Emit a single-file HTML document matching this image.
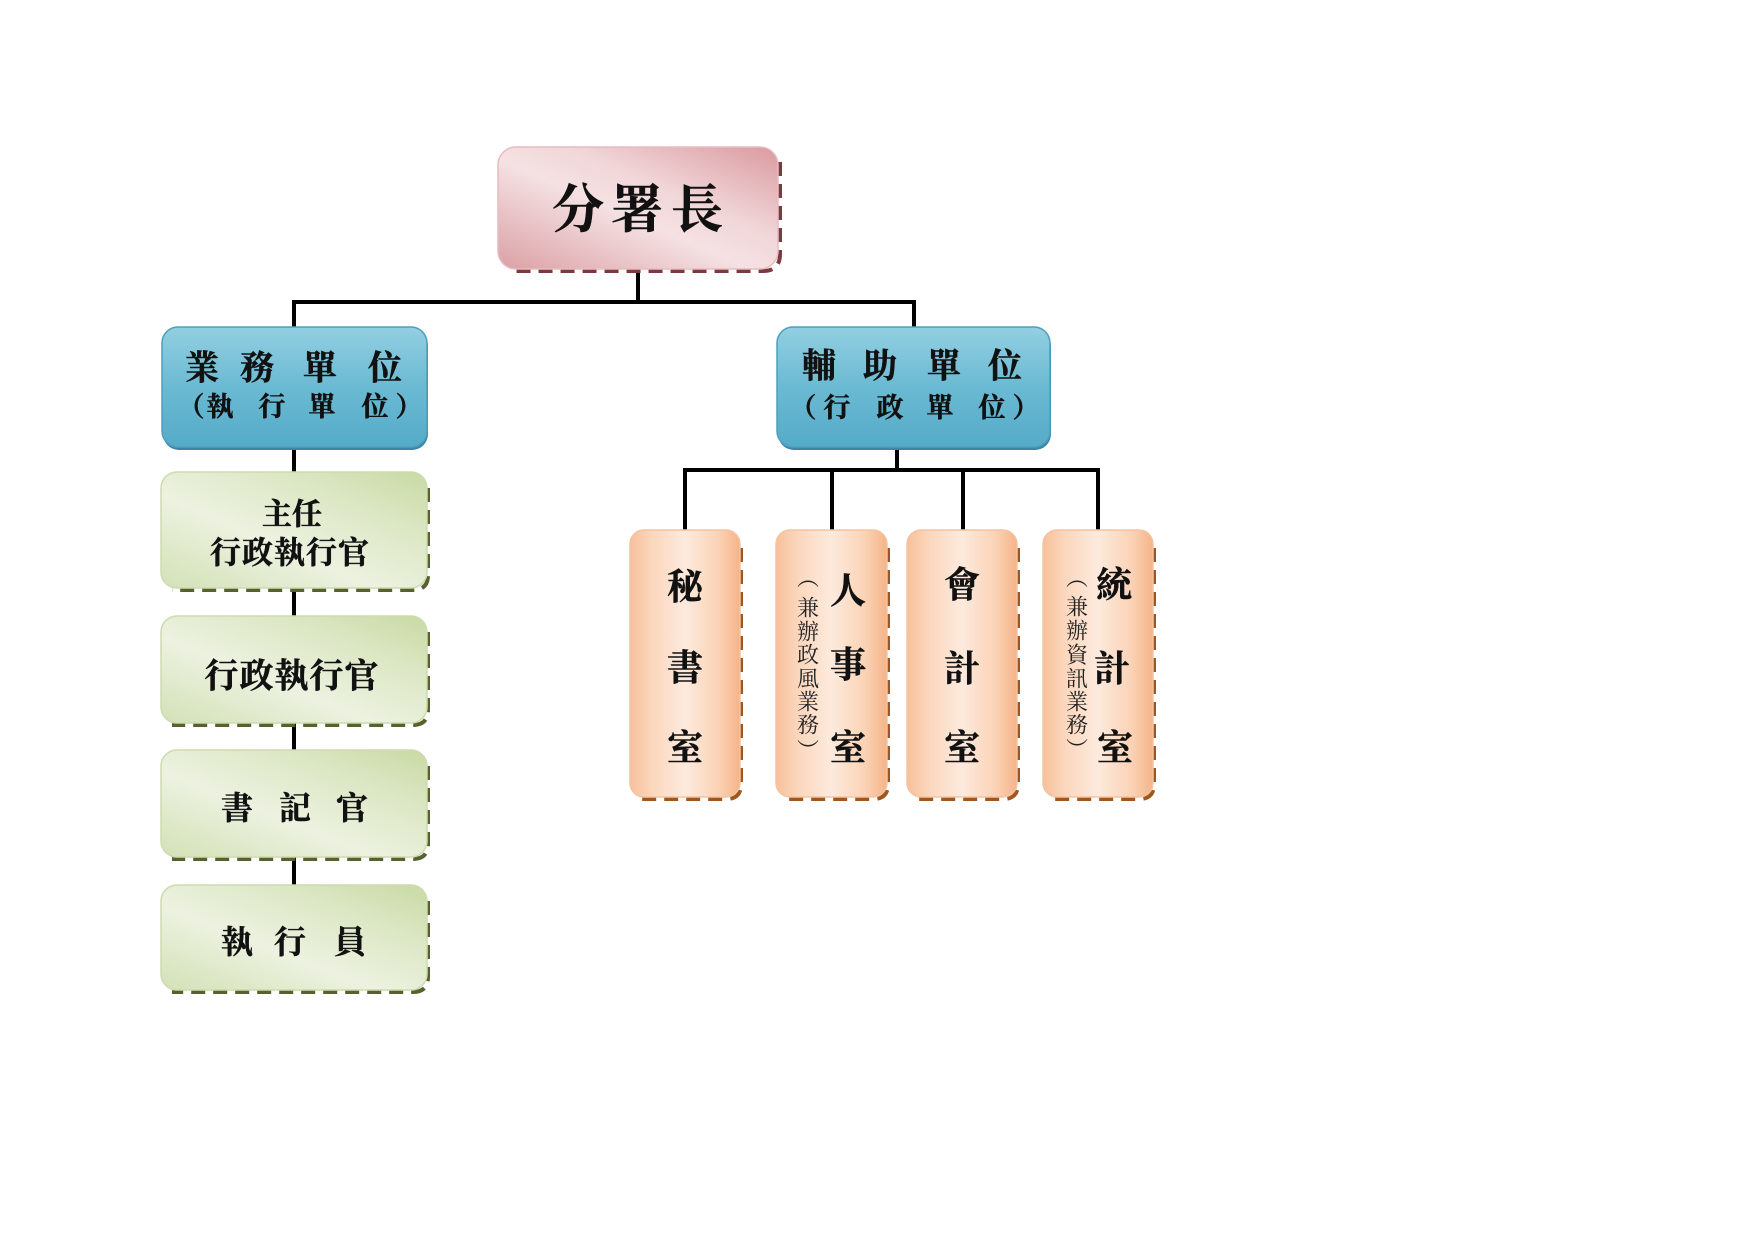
<!DOCTYPE html>
<html><head><meta charset="utf-8"><style>
html,body{margin:0;padding:0;background:#fff;}
svg{display:block;}
text{font-family:"Liberation Serif","Noto Serif CJK SC",serif;font-weight:bold;fill:#111;stroke:#111;stroke-width:0.5;text-anchor:middle;dominant-baseline:central;}
.s{font-weight:normal;fill:#222;stroke:none;}
</style></head><body>
<svg width="1754" height="1240" viewBox="0 0 1754 1240" xmlns="http://www.w3.org/2000/svg">
<defs>
<linearGradient id="gp" x1="0" y1="1" x2="1" y2="0">
<stop offset="0" stop-color="#dba0a5"/><stop offset="0.45" stop-color="#f5e1e3"/><stop offset="0.62" stop-color="#f1d7d9"/><stop offset="1" stop-color="#d99aa0"/>
</linearGradient>
<linearGradient id="gb" x1="0" y1="0" x2="0" y2="1">
<stop offset="0" stop-color="#93cfe1"/><stop offset="0.5" stop-color="#6bbad3"/><stop offset="1" stop-color="#55abc8"/>
</linearGradient>
<linearGradient id="gg" x1="0" y1="1" x2="1" y2="0">
<stop offset="0" stop-color="#d3e1b6"/><stop offset="0.4" stop-color="#ecf2e0"/><stop offset="0.7" stop-color="#dde8c6"/><stop offset="1" stop-color="#c9d9a4"/>
</linearGradient>
<linearGradient id="go" x1="0" y1="0" x2="1" y2="0">
<stop offset="0" stop-color="#f7c09a"/><stop offset="0.2" stop-color="#fbd7bd"/><stop offset="0.5" stop-color="#fdeadd"/><stop offset="0.8" stop-color="#fbd3b6"/><stop offset="1" stop-color="#f5b488"/>
</linearGradient>
</defs>

<!-- connectors -->
<g stroke="#000" stroke-width="4" fill="none">
<line x1="638" y1="268" x2="638" y2="302"/>
<line x1="292" y1="302" x2="916" y2="302"/>
<line x1="294" y1="302" x2="294" y2="328"/>
<line x1="914" y1="302" x2="914" y2="328"/>
<line x1="294" y1="446" x2="294" y2="473"/>
<line x1="294" y1="588" x2="294" y2="617"/>
<line x1="294" y1="723" x2="294" y2="751"/>
<line x1="294" y1="857" x2="294" y2="886"/>
<line x1="897" y1="446" x2="897" y2="470"/>
<line x1="683" y1="470" x2="1100" y2="470"/>
<line x1="685" y1="470" x2="685" y2="531"/>
<line x1="832" y1="470" x2="832" y2="531"/>
<line x1="963" y1="470" x2="963" y2="531"/>
<line x1="1098" y1="470" x2="1098" y2="531"/>
</g>

<!-- top box -->
<path d="M780 162 V254 Q780 271 763 271 H512" stroke="#7a3a40" stroke-width="4" stroke-dasharray="14 8" fill="none"/>
<rect x="498" y="147" width="280" height="122" rx="18" fill="url(#gp)" stroke="#e6bcc0" stroke-width="1.5"/>
<text x="578" y="211" font-size="52">分</text>
<text x="637" y="211" font-size="52">署</text>
<text x="697" y="211" font-size="52">長</text>

<!-- blue boxes -->
<rect x="163" y="330" width="265" height="120" rx="16" fill="#3a87a5"/>
<rect x="162" y="327" width="265" height="120" rx="16" fill="url(#gb)" stroke="#4d9fbd" stroke-width="1.5"/>
<text x="202" y="369" font-size="34">業</text>
<text x="257" y="369" font-size="34">務</text>
<text x="320" y="369" font-size="34">單</text>
<text x="385" y="369" font-size="34">位</text>
<text x="191" y="407" font-size="27">（</text>
<text x="220" y="407" font-size="27">執</text>
<text x="272" y="407" font-size="27">行</text>
<text x="322" y="407" font-size="27">單</text>
<text x="375" y="407" font-size="27">位</text>
<text x="409" y="407" font-size="27">）</text>

<rect x="778" y="330" width="273" height="120" rx="16" fill="#3a87a5"/>
<rect x="777" y="327" width="273" height="120" rx="16" fill="url(#gb)" stroke="#4d9fbd" stroke-width="1.5"/>
<text x="819" y="367" font-size="34">輔</text>
<text x="880" y="367" font-size="34">助</text>
<text x="944" y="367" font-size="34">單</text>
<text x="1005" y="367" font-size="34">位</text>
<text x="803" y="408" font-size="27">（</text>
<text x="837" y="408" font-size="27">行</text>
<text x="890" y="408" font-size="27">政</text>
<text x="940" y="408" font-size="27">單</text>
<text x="992" y="408" font-size="27">位</text>
<text x="1026" y="408" font-size="27">）</text>

<!-- green boxes -->
<g>
<path d="M428 488 V575 Q428 590 413 590 H172" stroke="#56612d" stroke-width="4" stroke-dasharray="14 8" fill="none"/>
<rect x="161" y="472" width="266" height="116" rx="16" fill="url(#gg)" stroke="#cddbb0" stroke-width="1.5"/>
<text x="292" y="515" font-size="30">主任</text>
<text x="290" y="553" font-size="31" letter-spacing="1">行政執行官</text>

<path d="M428 632 V710 Q428 725 413 725 H172" stroke="#56612d" stroke-width="4" stroke-dasharray="14 8" fill="none"/>
<rect x="161" y="616" width="266" height="107" rx="16" fill="url(#gg)" stroke="#cddbb0" stroke-width="1.5"/>
<text x="292" y="677" font-size="34" letter-spacing="1">行政執行官</text>

<path d="M428 766 V844 Q428 859 413 859 H172" stroke="#56612d" stroke-width="4" stroke-dasharray="14 8" fill="none"/>
<rect x="161" y="750" width="266" height="107" rx="16" fill="url(#gg)" stroke="#cddbb0" stroke-width="1.5"/>
<text x="237" y="808" font-size="32">書</text>
<text x="295" y="808" font-size="32">記</text>
<text x="352" y="808" font-size="32">官</text>

<path d="M428 901 V977 Q428 992 413 992 H172" stroke="#56612d" stroke-width="4" stroke-dasharray="14 8" fill="none"/>
<rect x="161" y="885" width="266" height="105" rx="16" fill="url(#gg)" stroke="#cddbb0" stroke-width="1.5"/>
<text x="237" y="942" font-size="32">執</text>
<text x="290" y="942" font-size="32">行</text>
<text x="350" y="942" font-size="32">員</text>
</g>

<!-- orange boxes -->
<g>
<path d="M741 548 V784 Q741 799 726 799 H640" stroke="#a0561f" stroke-width="4" stroke-dasharray="14 8" fill="none"/>
<rect x="630" y="530" width="110" height="267" rx="14" fill="url(#go)" stroke="#f3c4a2" stroke-width="1.5"/>
<text x="685" y="587" font-size="36">秘</text>
<text x="685" y="668" font-size="36">書</text>
<text x="685" y="748" font-size="36">室</text>

<path d="M888 548 V784 Q888 799 873 799 H786" stroke="#a0561f" stroke-width="4" stroke-dasharray="14 8" fill="none"/>
<rect x="776" y="530" width="111" height="267" rx="14" fill="url(#go)" stroke="#f3c4a2" stroke-width="1.5"/>
<text x="848" y="591" font-size="36">人</text>
<text x="848" y="665" font-size="36">事</text>
<text x="848" y="748" font-size="36">室</text>
<text class="s" x="808" y="578" font-size="22">︵</text>
<text class="s" x="808" y="608" font-size="22">兼</text>
<text class="s" x="808" y="632" font-size="22">辦</text>
<text class="s" x="808" y="655" font-size="22">政</text>
<text class="s" x="808" y="679" font-size="22">風</text>
<text class="s" x="808" y="702" font-size="22">業</text>
<text class="s" x="808" y="725" font-size="22">務</text>
<text class="s" x="808" y="751" font-size="22">︶</text>

<path d="M1018 548 V784 Q1018 799 1003 799 H917" stroke="#a0561f" stroke-width="4" stroke-dasharray="14 8" fill="none"/>
<rect x="907" y="530" width="110" height="267" rx="14" fill="url(#go)" stroke="#f3c4a2" stroke-width="1.5"/>
<text x="962" y="585" font-size="36">會</text>
<text x="962" y="669" font-size="36">計</text>
<text x="962" y="748" font-size="36">室</text>

<path d="M1154 548 V784 Q1154 799 1139 799 H1053" stroke="#a0561f" stroke-width="4" stroke-dasharray="14 8" fill="none"/>
<rect x="1043" y="530" width="110" height="267" rx="14" fill="url(#go)" stroke="#f3c4a2" stroke-width="1.5"/>
<text x="1114" y="585" font-size="36">統</text>
<text x="1112" y="669" font-size="36">計</text>
<text x="1115" y="748" font-size="36">室</text>
<text class="s" x="1077" y="578" font-size="22">︵</text>
<text class="s" x="1077" y="607" font-size="22">兼</text>
<text class="s" x="1077" y="631" font-size="22">辦</text>
<text class="s" x="1077" y="655" font-size="22">資</text>
<text class="s" x="1077" y="679" font-size="22">訊</text>
<text class="s" x="1077" y="702" font-size="22">業</text>
<text class="s" x="1077" y="725" font-size="22">務</text>
<text class="s" x="1077" y="750" font-size="22">︶</text>
</g>
</svg>
</body></html>
